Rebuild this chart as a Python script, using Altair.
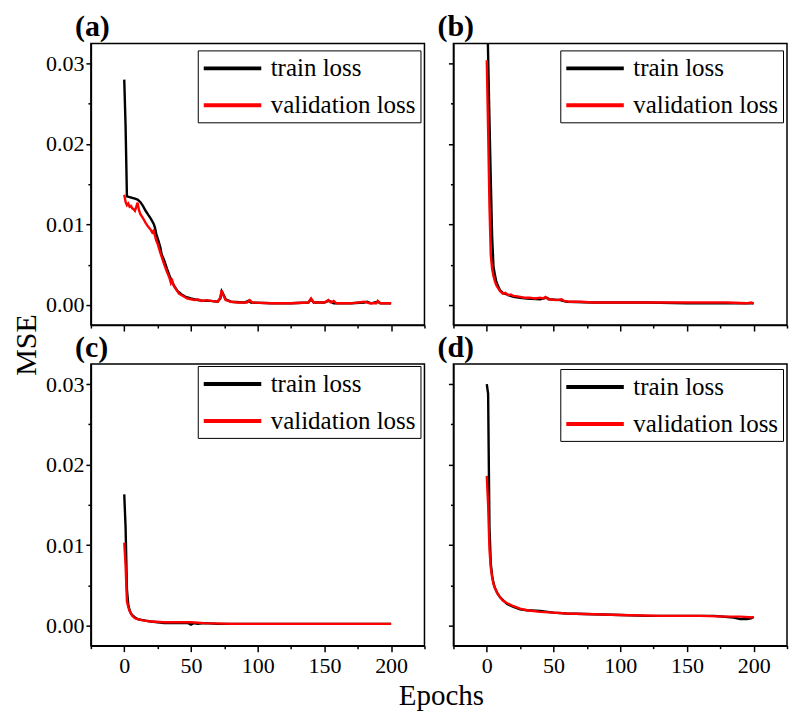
import altair as alt
import pandas as pd

FONT = "Liberation Serif"
SERIES = ["train loss", "validation loss"]
COLORS = ["black", "red"]

# ---------- panel (a) ----------
a_train_epoch = [0, 1, 2, 4, 6, 8, 10, 12, 14, 16, 18, 20, 22, 23, 24, 25, 27, 28, 30, 32, 34, 36, 38, 40, 43, 46, 50, 55, 60, 65, 70, 72, 73, 74, 76, 80, 90, 93, 95, 110, 125, 138, 140, 142, 150, 153, 155, 157, 170, 180, 182, 185, 190, 192, 200]
a_train_mse = [0.0280, 0.0222, 0.0135, 0.0134, 0.0133, 0.0132, 0.0131, 0.0128, 0.0123, 0.0117, 0.0112, 0.0107, 0.0101, 0.0096, 0.0088, 0.0083, 0.0072, 0.0063, 0.0055, 0.0045, 0.0036, 0.0028, 0.0022, 0.0017, 0.0013, 0.0010, 0.0008, 0.0006, 0.0005, 0.0005, 0.0004, 0.0008, 0.0017, 0.0014, 0.0007, 0.0004, 0.0003, 0.0005, 0.0003, 0.0002, 0.0002, 0.0003, 0.0007, 0.0003, 0.0003, 0.0005, 0.0004, 0.0002, 0.0002, 0.0003, 0.0004, 0.0002, 0.0004, 0.0002, 0.0002]
a_val_epoch = [0, 1, 2, 3, 4, 5, 6, 7, 8, 9, 10, 11, 12, 14, 16, 18, 20, 21, 22, 23, 24, 25, 27, 28, 30, 32, 34, 35, 36, 37, 39, 41, 44, 47, 50, 53, 55, 58, 62, 65, 70, 72, 73, 74, 76, 80, 85, 92, 94, 96, 110, 125, 138, 140, 142, 150, 153, 155, 157, 159, 170, 180, 182, 184, 189, 190, 192, 200]
a_val_mse = [0.0137, 0.0128, 0.0124, 0.0126, 0.0122, 0.0123, 0.0120, 0.0119, 0.0117, 0.0122, 0.0127, 0.0118, 0.0113, 0.0108, 0.0102, 0.0097, 0.0093, 0.0090, 0.0092, 0.0086, 0.0080, 0.0076, 0.0065, 0.0060, 0.0050, 0.0041, 0.0033, 0.0027, 0.0030, 0.0024, 0.0019, 0.0014, 0.0011, 0.0008, 0.0007, 0.0006, 0.0007, 0.0005, 0.0006, 0.0005, 0.0004, 0.0009, 0.0018, 0.0013, 0.0006, 0.0004, 0.0003, 0.0003, 0.0006, 0.0003, 0.0002, 0.0002, 0.0003, 0.0008, 0.0003, 0.0003, 0.0006, 0.0003, 0.0005, 0.0002, 0.0002, 0.0004, 0.0003, 0.0002, 0.0002, 0.0005, 0.0002, 0.0002]

# ---------- panel (b) ----------
b_train_epoch = [0, 1, 2, 3, 4, 5, 6, 7, 8, 10, 12, 15, 20, 25, 30, 40, 45, 47, 55, 60, 80, 100, 120, 150, 180, 200]
b_train_mse = [0.0400, 0.0310, 0.0230, 0.0155, 0.0085, 0.0048, 0.0038, 0.0030, 0.0025, 0.0018, 0.0015, 0.0013, 0.0010, 0.0009, 0.0008, 0.0007, 0.0009, 0.0007, 0.0006, 0.0004, 0.0003, 0.0003, 0.0003, 0.0002, 0.0002, 0.0002]
b_val_epoch = [0, 1, 2, 3, 4, 5, 6, 7, 8, 10, 12, 14, 16, 18, 20, 22, 25, 28, 32, 36, 40, 42, 44, 46, 52, 56, 58, 62, 70, 80, 100, 120, 140, 160, 180, 195, 198, 200]
b_val_mse = [0.0304, 0.0217, 0.0124, 0.0062, 0.0045, 0.0036, 0.0030, 0.0025, 0.0022, 0.0017, 0.0014, 0.0015, 0.0012, 0.0013, 0.0011, 0.0011, 0.0010, 0.0009, 0.0009, 0.0008, 0.0009, 0.0008, 0.0010, 0.0007, 0.0006, 0.0007, 0.0005, 0.0004, 0.0004, 0.0003, 0.0003, 0.0003, 0.0003, 0.0003, 0.0003, 0.0002, 0.0003, 0.0002]

# ---------- panel (c) ----------
c_train_epoch = [0, 1, 2, 3, 4, 5, 6, 8, 10, 13, 16, 20, 25, 30, 40, 48, 50, 52, 55, 60, 70, 100, 150, 200]
c_train_mse = [0.0163, 0.0122, 0.0045, 0.0026, 0.0019, 0.0015, 0.0013, 0.0010, 0.0008, 0.0007, 0.0006, 0.0005, 0.0004, 0.0003, 0.0003, 0.0003, 0.0001, 0.0003, 0.0002, 0.0003, 0.0002, 0.0002, 0.0002, 0.0002]
c_val_epoch = [0, 1, 2, 3, 4, 5, 6, 8, 10, 12, 15, 20, 30, 50, 60, 80, 200]
c_val_mse = [0.0103, 0.0075, 0.0030, 0.0023, 0.0018, 0.0015, 0.0012, 0.0009, 0.0008, 0.0007, 0.0006, 0.0005, 0.0004, 0.0004, 0.0003, 0.0002, 0.0002]

# ---------- panel (d) ----------
d_train_epoch = [0, 1, 2, 3, 4, 5, 6, 8, 10, 15, 20, 25, 30, 40, 50, 60, 80, 100, 120, 150, 170, 185, 190, 195, 198, 200]
d_train_mse = [0.0300, 0.0288, 0.0122, 0.0077, 0.0062, 0.0053, 0.0047, 0.0040, 0.0035, 0.0027, 0.0023, 0.0020, 0.0019, 0.0018, 0.0016, 0.0015, 0.0014, 0.0013, 0.0012, 0.0012, 0.0012, 0.0010, 0.0008, 0.0008, 0.0009, 0.0011]
d_val_epoch = [0, 1, 2, 3, 4, 5, 6, 8, 10, 12, 15, 20, 25, 30, 40, 50, 60, 80, 100, 130, 160, 180, 190, 200]
d_val_mse = [0.0186, 0.0150, 0.0095, 0.0072, 0.0060, 0.0052, 0.0047, 0.0040, 0.0035, 0.0031, 0.0028, 0.0024, 0.0021, 0.0019, 0.0017, 0.0016, 0.0015, 0.0014, 0.0013, 0.0012, 0.0012, 0.0011, 0.0011, 0.0010]

X_TICKS = [-25, 0, 25, 50, 75, 100, 125, 150, 175, 200, 225]
Y_TICKS = [0, 0.005, 0.01, 0.015, 0.02, 0.025, 0.03]

W, H = 334, 282
ROW_GAP, COL_GAP = 39, 29
# legend swatch: a horizontal stroke ~58 px long, drawn in a 24 px symbol column
SWATCH = "M-1,0H3.8"
SWATCH_SIZE = 576
LEG_W = 222


def frame(te, tv, ve, vv):
    rows = [{"epoch": e, "mse": v, "series": SERIES[0]} for e, v in zip(te, tv)]
    rows += [{"epoch": e, "mse": v, "series": SERIES[1]} for e, v in zip(ve, vv)]
    return pd.DataFrame(rows)


def panel(df, label, x_labels, y_labels, x_title=False, y_title=False, leg_y=8):
    x_axis_kw = dict(
        values=X_TICKS,
        labels=x_labels,
        labelFont=FONT,
        labelFontSize=22,
        labelPadding=4,
        labelExpr="(datum.value % 50 == 0 && datum.value >= 0 && datum.value <= 200) ? datum.label : ''",
        tickSize={"condition": {"test": "datum.value % 50 == 0", "value": 6}, "value": 3},
        grid=False,
        title=None,
    )
    if x_title:
        x_axis_kw.update(title="Epochs", titleX=(2 * W + COL_GAP) / 2 + 2, titleY=59,
                         titleAlign="center", titleBaseline="alphabetic", titleFontSize=29,
                         titleFontWeight="normal", titleFont=FONT, titleColor="black")
    y_axis_kw = dict(
        values=Y_TICKS,
        labels=y_labels,
        labelFont=FONT,
        labelFontSize=22,
        labelPadding=2,
        labelExpr="abs(datum.value*100 - round(datum.value*100)) < 0.001 ? format(datum.value, '.2f') : ''",
        tickSize={"condition": {"test": "abs(datum.value*100 - round(datum.value*100)) < 0.001", "value": 5}, "value": 3},
        grid=False,
        title=None,
    )
    if y_title:
        y_axis_kw.update(title="MSE", titleX=-49, titleY=(2 * H + ROW_GAP) / 2,
                         titleAlign="center", titleBaseline="bottom", titleAngle=270,
                         titleFontSize=30, titleFontWeight="normal", titleFont=FONT,
                         titleColor="black")
    return (
        alt.Chart(df)
        .mark_line(strokeWidth=2.4, clip=True)
        .encode(
            x=alt.X("epoch:Q", scale=alt.Scale(domain=[-25, 225], nice=False, zero=False),
                    axis=alt.Axis(**x_axis_kw)),
            y=alt.Y("mse:Q", scale=alt.Scale(domain=[-0.0025, 0.0325], nice=False, zero=False),
                    axis=alt.Axis(**y_axis_kw)),
            color=alt.Color(
                "series:N",
                scale=alt.Scale(domain=SERIES, range=COLORS),
                legend=alt.Legend(
                    title=None, orient="none", legendX=W - 5 - LEG_W, legendY=leg_y,
                    strokeColor="black", fillColor="white", padding=4,
                    symbolType=SWATCH, symbolSize=SWATCH_SIZE, symbolStrokeWidth=4,
                    labelFont=FONT, labelFontSize=25, labelOffset=41, rowPadding=10,
                    labelLimit=400, labelColor="black", labelBaseline="middle",
                ),
            ),
        )
        .properties(
            width=W, height=H,
            title=alt.TitleParams(label, anchor="start", frame="group", font=FONT, fontSize=30,
                                  fontWeight="bold", dx=-16, offset=1, color="black"),
        )
    )


pa = panel(frame(a_train_epoch, a_train_mse, a_val_epoch, a_val_mse), "(a)", False, True,
           y_title=True, leg_y=7)
pb = panel(frame(b_train_epoch, b_train_mse, b_val_epoch, b_val_mse), "(b)", False, False, leg_y=7)
pc = panel(frame(c_train_epoch, c_train_mse, c_val_epoch, c_val_mse), "(c)", True, True,
           x_title=True, leg_y=2)
pd_ = panel(frame(d_train_epoch, d_train_mse, d_val_epoch, d_val_mse), "(d)", True, False, leg_y=5)

chart = (
    alt.concat(pa, pb, pc, pd_, columns=2, spacing={"row": ROW_GAP, "column": COL_GAP},
               bounds="flush")
    .resolve_legend(color="independent")
    .properties(padding={"left": 3, "top": 3, "right": 0, "bottom": 0})
    .configure(font=FONT)
    .configure_view(stroke="black", strokeWidth=1.5)
    .configure_axis(
        labelFont=FONT, labelFontSize=22, labelColor="black",
        domainColor="black", domainWidth=1.5, tickColor="black", tickWidth=1.5,
    )
    .configure_legend(labelFont=FONT)
)

chart.save("out.html", embed_options={"renderer": "svg", "actions": False})
